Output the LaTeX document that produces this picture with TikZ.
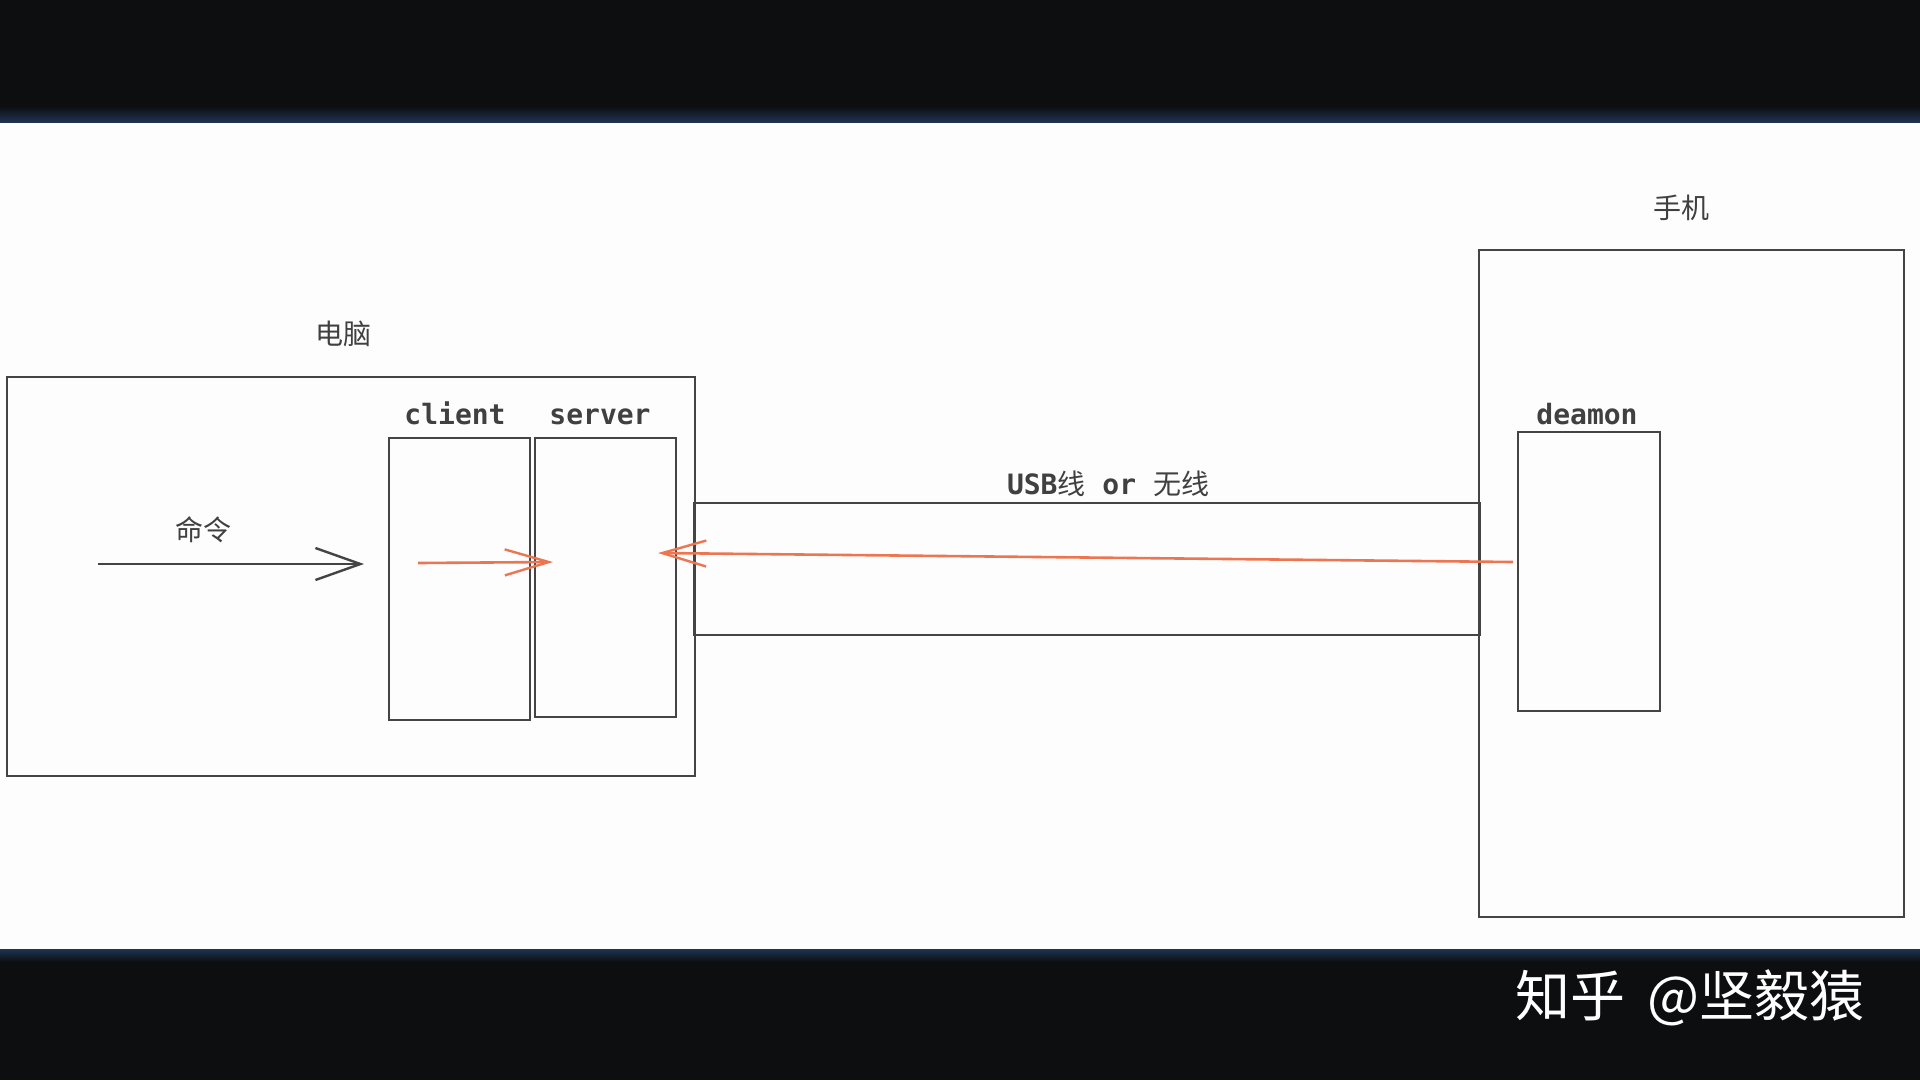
\documentclass[tikz,border=0pt]{standalone}
\usepackage{fontspec}
\setmonofont{DejaVu Sans Mono}
\newfontfamily\cjk{Noto Sans CJK SC}
\usetikzlibrary{arrows.meta}
\definecolor{band}{HTML}{0D0E0F}
\definecolor{bandblue}{HTML}{1D3452}
\definecolor{paper}{HTML}{FDFDFD}
\definecolor{ink}{HTML}{444444}
\definecolor{txt}{HTML}{404040}
\definecolor{orng}{HTML}{EB7651}
\tikzset{
  box/.style={draw=ink, line width=2pt, inner sep=0pt, anchor=north west},
  lbl/.style={text=txt, inner sep=0pt, anchor=base, font=\fontsize{28}{32}\selectfont\ttfamily\bfseries},
  cjklbl/.style={text=txt, inner sep=0pt, font=\fontsize{28}{32}\selectfont\cjk},
  blackarrow/.style={draw=ink, line width=2.6pt, -{Straight Barb[length=45pt, width=32pt, line width=2.4pt]}},
  orangearrow/.style={draw=orng, line width=2.6pt, -{Straight Barb[length=44pt, width=26pt, line width=2.4pt]}},
}
\begin{document}
\begin{tikzpicture}[x=1pt, y=-1pt]
\useasboundingbox (0,0) rectangle (1920,1080);
% background
\fill[paper] (0,0) rectangle (1920,1080);
\fill[band] (0,0) rectangle (1920,122);
\shade[top color=band, bottom color=bandblue] (0,106) rectangle (1920,122);
\fill[band] (0,949) rectangle (1920,1080);
\shade[top color=bandblue, bottom color=band] (0,949) rectangle (1920,962);

% boxes
\node[box, minimum width=688pt, minimum height=399pt] (pc) at (6,376) {};
\node[box, minimum width=141pt, minimum height=282pt] (client) at (388,437) {};
\node[box, minimum width=141pt, minimum height=279pt] (server) at (534,437) {};
\node[box, minimum width=786pt, minimum height=132pt] (usb) at (693,502) {};
\node[box, minimum width=425pt, minimum height=667pt] (phone) at (1478,249) {};
\node[box, minimum width=142pt, minimum height=279pt] (deamon) at (1517,431) {};

% labels
\node[cjklbl] (pclbl) at (343,334) {电脑};
\node[lbl] (clientlbl) at (455,424) {client};
\node[lbl] (serverlbl) at (600,424) {server};
\node[cjklbl] (cmdlbl) at (203,530) {命令};
\node[text=txt, inner sep=0pt, font=\fontsize{28}{32}\selectfont] (usblbl) at (1108,484) {{\ttfamily\bfseries USB}{\cjk 线}{\ttfamily\bfseries{} or }{\cjk 无线}};
\node[cjklbl] (phonelbl) at (1681,208) {手机};
\node[lbl] (deamonlbl) at (1587,424) {deamon};

% connector end points
\coordinate (cmdstart) at (98,564);
\coordinate (cmdend) at (364,564);
\coordinate (cs1) at (418,563);
\coordinate (cs2) at (553,562);
\coordinate (ds1) at (1513,562);
\coordinate (ds2) at (658,553);

\draw[blackarrow] (cmdstart) -- (cmdend);
\draw[orangearrow] (cs1) -- (cs2);
\draw[orangearrow] (ds1) -- (ds2);

% watermark
\node[text=white, inner sep=0pt, font=\fontsize{55}{60}\selectfont\cjk] (mark) at (1690,998) {知乎\hspace{22pt}@坚毅猿};
\end{tikzpicture}
\end{document}
